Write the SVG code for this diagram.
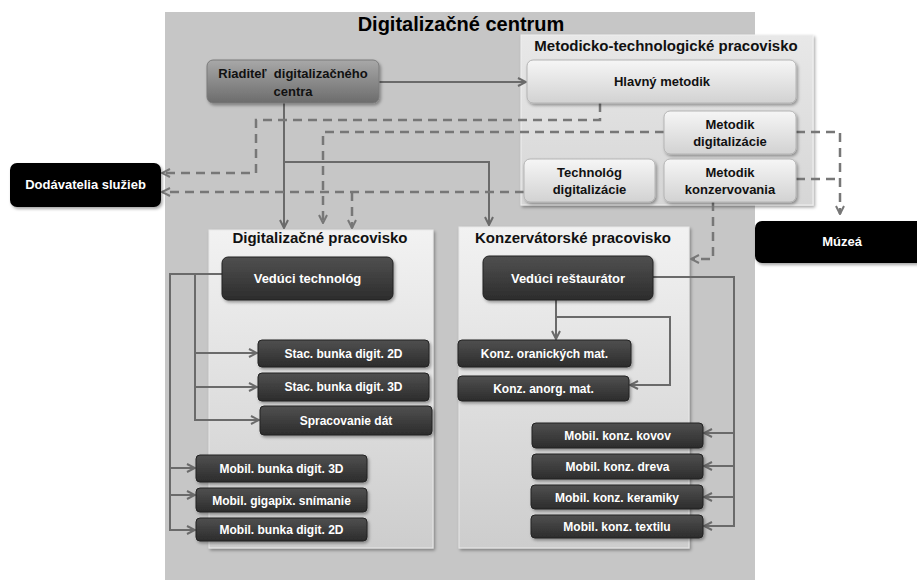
<svg xmlns="http://www.w3.org/2000/svg" width="917" height="580" viewBox="0 0 917 580">
<defs>
<linearGradient id="gLight" x1="0" y1="0" x2="0" y2="1"><stop offset="0" stop-color="#f6f6f6"/><stop offset="1" stop-color="#d2d2d2"/></linearGradient>
<linearGradient id="gMid" x1="0" y1="0" x2="0" y2="1"><stop offset="0" stop-color="#a8a8a8"/><stop offset="1" stop-color="#6c6c6c"/></linearGradient>
<linearGradient id="gDark" x1="0" y1="0" x2="0" y2="1"><stop offset="0" stop-color="#505050"/><stop offset="1" stop-color="#2c2c2c"/></linearGradient>
<linearGradient id="gCont" x1="0" y1="0" x2="0" y2="1"><stop offset="0" stop-color="#f2f2f2"/><stop offset="1" stop-color="#cdcdcd"/></linearGradient>
<linearGradient id="gMet" x1="0" y1="0" x2="0" y2="1"><stop offset="0" stop-color="#e8e8e8"/><stop offset="1" stop-color="#d6d6d6"/></linearGradient>
<filter id="sh" x="-10%" y="-10%" width="125%" height="140%"><feDropShadow dx="1.5" dy="2" stdDeviation="1.5" flood-color="#000" flood-opacity="0.35"/></filter>
<marker id="ar" viewBox="0 0 10 10" refX="9" refY="5" markerWidth="10" markerHeight="10" markerUnits="userSpaceOnUse" orient="auto"><path d="M1,1 L9,5 L1,9" fill="none" stroke="#6a6a6a" stroke-width="2"/></marker>
<marker id="ard" viewBox="0 0 10 10" refX="9" refY="5" markerWidth="10" markerHeight="10" markerUnits="userSpaceOnUse" orient="auto"><path d="M1,1 L9,5 L1,9" fill="none" stroke="#777" stroke-width="2"/></marker>
</defs>
<style>
text{font-family:"Liberation Sans",Arial,sans-serif;font-weight:bold;text-anchor:middle}
.t{font-size:13px;fill:#111}
.w{font-size:13px;fill:#fff}
.ws{font-size:12px;fill:#fff}
.h{font-size:15px;fill:#111}
.light{fill:url(#gLight);stroke:#b4b4b4;stroke-width:1;filter:url(#sh)}
.dark{fill:url(#gDark);stroke:#222;stroke-width:1;filter:url(#sh)}
.cont{fill:url(#gCont);stroke:#e8e8e8;stroke-width:1;filter:url(#sh)}
.sol{fill:none;stroke:#6a6a6a;stroke-width:2}
.das{fill:none;stroke:#777;stroke-width:2.5;stroke-dasharray:9 6}
</style>
<rect x="165" y="12" width="590" height="568" fill="#c6c6c6"/>
<text x="461" y="31" style="font-size:20px" fill="#000">Digitalizačné centrum</text>
<g id="metodicko-pracovisko">
<rect x="521" y="35" width="292" height="170" fill="url(#gMet)" stroke="#f0f0f0" filter="url(#sh)"/>
<text class="h" x="666" y="51">Metodicko-technologické pracovisko</text>
</g>
<g id="digitalizacne-pracovisko">
<rect class="cont" x="209" y="230" width="224" height="318"/>
<text class="h" x="320" y="243">Digitalizačné pracovisko</text>
</g>
<g id="konzervatorske-pracovisko">
<rect class="cont" x="459" y="227" width="230" height="321"/>
<text class="h" x="573" y="243">Konzervátorské pracovisko</text>
</g>
<g id="connectors">
<path class="sol" d="M379,82 H526" marker-end="url(#ar)"/>
<path class="sol" d="M284,103 V228" marker-end="url(#ar)"/>
<path class="sol" d="M284,162 H489 V225" marker-end="url(#ar)"/>
<path class="sol" d="M222,274 H195 V420 H259" marker-end="url(#ar)"/>
<path class="sol" d="M195,353 H257" marker-end="url(#ar)"/>
<path class="sol" d="M195,387 H257" marker-end="url(#ar)"/>
<path class="sol" d="M222,274 H170 V530 H195" marker-end="url(#ar)"/>
<path class="sol" d="M170,468 H195" marker-end="url(#ar)"/>
<path class="sol" d="M170,495 H195" marker-end="url(#ar)"/>
<path class="sol" d="M556,300 V339" marker-end="url(#ar)"/>
<path class="sol" d="M556,317 H670 V385 H630" marker-end="url(#ar)"/>
<path class="sol" d="M653,277 H734 V526 H704" marker-end="url(#ar)"/>
<path class="sol" d="M734,433 H704" marker-end="url(#ar)"/>
<path class="sol" d="M734,466 H704" marker-end="url(#ar)"/>
<path class="sol" d="M734,497 H704" marker-end="url(#ar)"/>
<path class="das" d="M600,103 V120 H256 V173 H162" marker-end="url(#ard)"/>
<path class="das" d="M664,132 H323 V223" marker-end="url(#ard)"/>
<path class="das" d="M524,192 H162" marker-end="url(#ard)"/>
<path class="das" d="M352,192 V228" marker-end="url(#ard)"/>
<path class="das" d="M796,132 H840 V214" marker-end="url(#ard)"/>
<path class="das" d="M796,179 H840"/>
<path class="das" d="M713,202 V259 H691" marker-end="url(#ard)"/>
</g>
<g id="riaditel">
<rect x="207" y="60" width="172" height="43" rx="6" fill="url(#gMid)" stroke="#7a7a7a" filter="url(#sh)"/>
<text class="t" x="293" y="78" style="white-space:pre">Riaditeľ  digitalizačného</text>
<text class="t" x="293" y="96">centra</text>
</g>
<g id="hlavny-metodik">
<rect class="light" x="527" y="60" width="269" height="43" rx="6"/>
<text class="t" x="662" y="86">Hlavný metodik</text>
</g>
<g id="metodik-digitalizacie">
<rect class="light" x="664" y="111" width="132" height="43" rx="6"/>
<text class="t" x="730" y="129">Metodik</text>
<text class="t" x="730" y="146">digitalizácie</text>
</g>
<g id="technolog-digitalizacie">
<rect class="light" x="524" y="159" width="131" height="43" rx="6"/>
<text class="t" x="589.5" y="177">Technológ</text>
<text class="t" x="589.5" y="194">digitalizácie</text>
</g>
<g id="metodik-konzervovania">
<rect class="light" x="664" y="159" width="132" height="43" rx="6"/>
<text class="t" x="730" y="177">Metodik</text>
<text class="t" x="730" y="194">konzervovania</text>
</g>
<g id="dodavatelia">
<rect x="10" y="163" width="151" height="44" rx="7" fill="#000" filter="url(#sh)"/>
<text class="w" x="85.5" y="189">Dodávatelia služieb</text>
</g>
<g id="muzea">
<rect x="755" y="221" width="180" height="42" rx="7" fill="#000" filter="url(#sh)"/>
<text class="w" x="842" y="246">Múzeá</text>
</g>
<g id="veduci-technolog">
<rect class="dark" x="222" y="257" width="171" height="43" rx="6"/>
<text class="w" x="307.5" y="283">Vedúci technológ</text>
</g>
<g id="stac-2d">
<rect class="dark" x="258" y="340" width="171" height="27" rx="4"/>
<text class="ws" x="343.5" y="358">Stac. bunka digit. 2D</text>
</g>
<g id="stac-3d">
<rect class="dark" x="258" y="373" width="171" height="28" rx="4"/>
<text class="ws" x="343.5" y="391">Stac. bunka digit. 3D</text>
</g>
<g id="spracovanie">
<rect class="dark" x="260" y="406" width="172" height="29" rx="4"/>
<text class="ws" x="346" y="425">Spracovanie dát</text>
</g>
<g id="mobil-3d">
<rect class="dark" x="196" y="455" width="171" height="27" rx="4"/>
<text class="ws" x="281.5" y="473">Mobil. bunka digit. 3D</text>
</g>
<g id="mobil-gigapix">
<rect class="dark" x="196" y="488" width="171" height="24" rx="4"/>
<text class="ws" x="281.5" y="505">Mobil. gigapix. snímanie</text>
</g>
<g id="mobil-2d">
<rect class="dark" x="196" y="518" width="171" height="23" rx="4"/>
<text class="ws" x="281.5" y="534">Mobil. bunka digit. 2D</text>
</g>
<g id="veduci-restaurator">
<rect class="dark" x="483" y="256" width="170" height="44" rx="6"/>
<text class="w" x="568" y="283">Vedúci reštaurátor</text>
</g>
<g id="konz-organickych">
<rect class="dark" x="458" y="340" width="173" height="27" rx="4"/>
<text class="ws" x="544.5" y="358">Konz. oranických mat.</text>
</g>
<g id="konz-anorg">
<rect class="dark" x="458" y="376" width="171" height="25" rx="4"/>
<text class="ws" x="543.5" y="393">Konz. anorg. mat.</text>
</g>
<g id="mobil-kovov">
<rect class="dark" x="532" y="423" width="171" height="25" rx="4"/>
<text class="ws" x="617.5" y="440">Mobil. konz. kovov</text>
</g>
<g id="mobil-dreva">
<rect class="dark" x="532" y="454" width="171" height="25" rx="4"/>
<text class="ws" x="617.5" y="471">Mobil. konz. dreva</text>
</g>
<g id="mobil-keramiky">
<rect class="dark" x="531" y="485" width="172" height="24" rx="4"/>
<text class="ws" x="617" y="502">Mobil. konz. keramiky</text>
</g>
<g id="mobil-textilu">
<rect class="dark" x="531" y="515" width="172" height="23" rx="4"/>
<text class="ws" x="617" y="531">Mobil. konz. textilu</text>
</g>
</svg>
